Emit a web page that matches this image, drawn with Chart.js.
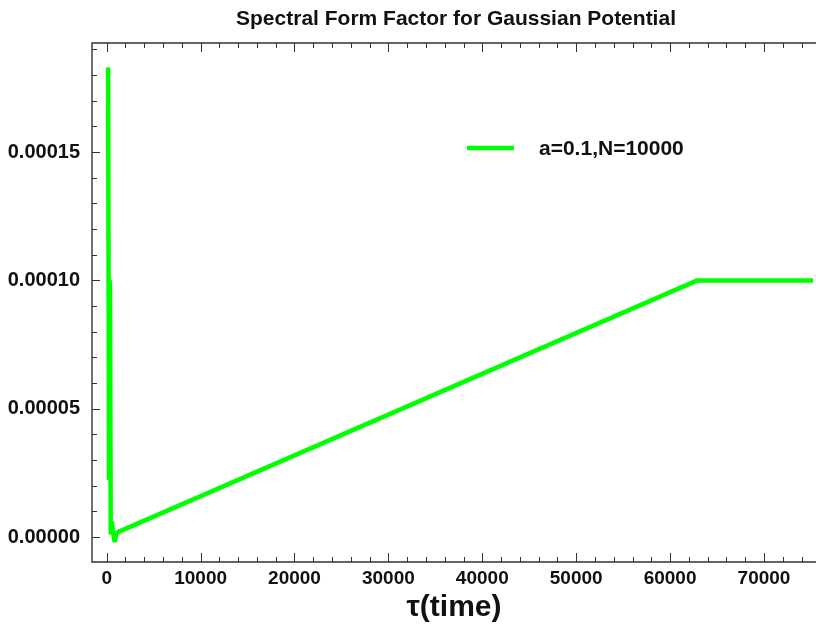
<!DOCTYPE html>
<html>
<head>
<meta charset="utf-8">
<script src="https://cdn.jsdelivr.net/npm/chart.js@4/dist/chart.umd.min.js"></script>
<style>
  body { margin: 0; background: #fff; }
  canvas { display: block; }
</style>
</head>
<body>
<canvas id="sffChart" width="816" height="627"></canvas>
<script>
// tau values and spectral form factor
const tau = [150, 250, 350, 430, 550, 700, 850, 1000, 1200, 1500, 62900, 75220];
const sff = [0.000183, 0.0000225, 0.0001, 0.000001, 0.000006, 0.0000012, -0.000002, 0.0000008, 0.000002, 0.0000024, 0.0001, 0.0001];
const xTicks = [0, 10000, 20000, 30000, 40000, 50000, 60000, 70000];
const yTicks = [0, 0.00005, 0.0001, 0.00015];
const seriesLabel = 'a=0.1,N=10000';
const chartTitle = 'Spectral Form Factor for Gaussian Potential';

const FONT = "'Liberation Sans', Arial, sans-serif";
const ctx = document.getElementById('sffChart');

const frame = {
  id: 'frame',
  afterDraw(chart) {
    const c = chart.ctx;
    const a = chart.chartArea;
    const x = chart.scales.x;
    const y = chart.scales.y;
    c.save();
    c.strokeStyle = '#333';
    c.lineWidth = 1.4;
    c.beginPath();
    c.moveTo(a.right, a.top);
    c.lineTo(a.left, a.top);
    c.lineTo(a.left, a.bottom);
    c.lineTo(a.right, a.bottom);
    c.stroke();

    // inward ticks, minor every 2000 / 0.00001
    c.lineWidth = 1;
    c.beginPath();
    for (let k = 0; k * 2000 <= x.max; k++) {
      const px = Math.round(x.getPixelForValue(k * 2000)) + 0.5;
      const len = k % 5 === 0 ? 9 : 5;
      c.moveTo(px, a.bottom); c.lineTo(px, a.bottom - len);
      c.moveTo(px, a.top); c.lineTo(px, a.top + len);
    }
    for (let k = 0; k * 0.00001 <= y.max; k++) {
      const py = Math.round(y.getPixelForValue(k * 0.00001)) + 0.5;
      const len = k % 5 === 0 ? 8 : 5;
      c.moveTo(a.left, py); c.lineTo(a.left + len, py);
    }
    c.stroke();

    // title
    c.fillStyle = '#111';
    c.textAlign = 'center';
    c.textBaseline = 'middle';
    c.font = 'bold 21px ' + FONT;
    c.fillText(chartTitle, 456, 19);

    // legend
    c.strokeStyle = 'rgb(0,255,0)';
    c.lineWidth = 4.5;
    c.beginPath();
    c.moveTo(467, 148); c.lineTo(514, 148);
    c.stroke();
    c.textAlign = 'left';
    c.font = 'bold 21px ' + FONT;
    c.fillText(chart.data.datasets[0].label, 539, 149);
    c.restore();
  }
};

new Chart(ctx, {
  type: 'line',
  data: {
    datasets: [{
      label: seriesLabel,
      data: tau.map((t, i) => ({ x: t, y: sff[i] })),
      borderColor: 'rgb(0,255,0)',
      borderWidth: 4.5,
      pointRadius: 0,
      tension: 0,
      borderCapStyle: 'butt',
      borderJoinStyle: 'bevel',
      fill: false
    }]
  },
  options: {
    responsive: false,
    animation: false,
    layout: { padding: { left: 0, right: 0, top: 43, bottom: 0 } },
    plugins: {
      legend: { display: false },
      tooltip: { enabled: false },
      title: { display: false }
    },
    scales: {
      x: {
        type: 'linear',
        min: -1565,
        max: 75540,
        grid: { display: false, drawTicks: false },
        border: { display: false },
        afterBuildTicks: s => { s.ticks = xTicks.map(v => ({ value: v })); },
        afterFit: s => { s.height = 65; },
        ticks: {
          color: '#111',
          padding: 5,
          maxRotation: 0,
          font: { family: FONT, size: 19, weight: 'bold' },
          callback: v => String(v)
        },
        title: {
          display: true,
          text: 'τ(time)',
          color: '#111',
          padding: { top: 0, bottom: 1 },
          font: { family: FONT, size: 30, weight: 'bold' }
        }
      },
      y: {
        type: 'linear',
        min: -0.00000974,
        max: 0.0001925,
        grid: { display: false, drawTicks: false },
        border: { display: false },
        afterBuildTicks: s => { s.ticks = yTicks.map(v => ({ value: v })); },
        afterFit: s => { s.width = 92; },
        ticks: {
          color: '#111',
          padding: 12,
          font: { family: FONT, size: 20, weight: 'bold' },
          callback: v => v.toFixed(5)
        }
      }
    }
  },
  plugins: [frame]
});
</script>
</body>
</html>
